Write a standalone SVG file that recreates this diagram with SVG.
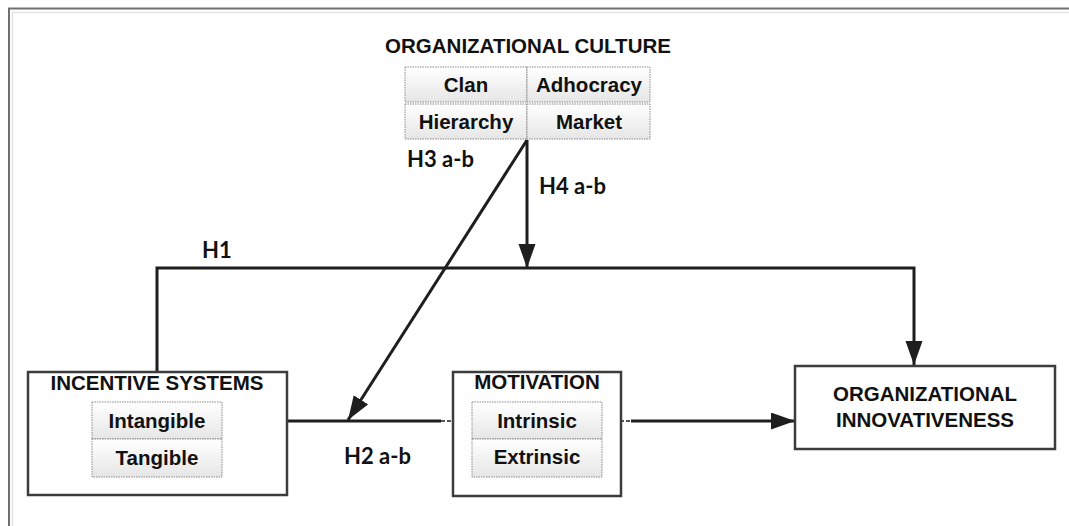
<svg xmlns="http://www.w3.org/2000/svg" width="1069" height="526" viewBox="0 0 1069 526">
  <defs>
    <linearGradient id="cellFill" x1="0" y1="0" x2="0" y2="1">
      <stop offset="0" stop-color="#ffffff"/>
      <stop offset="1" stop-color="#e6e6e6"/>
    </linearGradient>
    <marker id="arrow" markerUnits="userSpaceOnUse" markerWidth="26" markerHeight="18" refX="24" refY="8.5" orient="auto">
      <path d="M0,0 L24,8.5 L0,17 Z" fill="#1e1e1e"/>
    </marker>
    <style>
      .frame { fill: none; stroke: #707070; stroke-width: 2; }
      .frame-inner { fill: none; stroke: #e4e4e4; stroke-width: 1.5; }
      .box { fill: #ffffff; stroke: #3c3c3c; stroke-width: 2.5; }
      .cell { fill: url(#cellFill); stroke: #8a8a8a; stroke-width: 1; stroke-dasharray: 1.5 1; }
      .title { font-family: "Liberation Sans", Arial, sans-serif; font-weight: bold; font-size: 20.5px; fill: #111; text-anchor: middle; }
      .item { font-family: "Liberation Sans", Arial, sans-serif; font-weight: bold; font-size: 20.5px; fill: #111; text-anchor: middle; }
      .hyp { font-family: Lato, "Liberation Sans", sans-serif; font-weight: bold; font-size: 22px; fill: #111; }
      .link { fill: none; stroke: #1e1e1e; stroke-width: 3; }
      .link-dash { fill: none; stroke: #555; stroke-width: 2; stroke-dasharray: 4 2; }
    </style>
  </defs>

  <rect x="0" y="0" width="1069" height="526" fill="#ffffff"/>

  <!-- page frame -->
  <path class="frame" d="M9,526 V8.5 H1069"/>
  <path class="frame-inner" d="M12.5,526 V12.5 H1069"/>

  <!-- connectors -->
  <g id="connectors">
    <!-- H1: incentive systems to innovativeness -->
    <path class="link" d="M157,372 V268 H914 V365" marker-end="url(#arrow)"/>
    <!-- H4: culture moderating H1 -->
    <path class="link" d="M527,140 V268" marker-end="url(#arrow)"/>
    <!-- H3: culture moderating H2 -->
    <path class="link" d="M527,140 L348,420" marker-end="url(#arrow)"/>
    <!-- H2: incentive systems through motivation -->
    <path class="link" d="M287,421 H441"/>
    <path class="link-dash" d="M441,421 H472"/>
    <path class="link-dash" d="M602,421 H632"/>
    <path class="link" d="M631,421 H795" marker-end="url(#arrow)"/>
    <text class="hyp" x="202" y="258">H1</text>
    <text class="hyp" x="344" y="464">H2 a-b</text>
    <text class="hyp" x="407" y="167">H3 a-b</text>
    <text class="hyp" x="539" y="194">H4 a-b</text>
  </g>

  <!-- organizational culture -->
  <g id="culture">
    <text class="title" x="528" y="53">ORGANIZATIONAL CULTURE</text>
    <rect class="cell" x="405" y="67" width="122" height="35"/>
    <rect class="cell" x="527" y="67" width="123" height="35"/>
    <rect class="cell" x="405" y="104" width="122" height="35"/>
    <rect class="cell" x="527" y="104" width="123" height="35"/>
    <text class="item" x="466" y="92">Clan</text>
    <text class="item" x="589" y="92">Adhocracy</text>
    <text class="item" x="466" y="129">Hierarchy</text>
    <text class="item" x="589" y="129">Market</text>
  </g>

  <!-- incentive systems -->
  <g id="incentive-systems">
    <rect class="box" x="28" y="372" width="259" height="123"/>
    <text class="title" x="157" y="390">INCENTIVE SYSTEMS</text>
    <rect class="cell" x="92" y="402" width="130" height="37"/>
    <rect class="cell" x="92" y="439" width="130" height="38"/>
    <text class="item" x="157" y="428">Intangible</text>
    <text class="item" x="157" y="465">Tangible</text>
  </g>

  <!-- motivation -->
  <g id="motivation">
    <rect class="box" x="453" y="372" width="168" height="124"/>
    <text class="title" x="537" y="389">MOTIVATION</text>
    <rect class="cell" x="472" y="402" width="130" height="37"/>
    <rect class="cell" x="472" y="439" width="130" height="38"/>
    <text class="item" x="537" y="428">Intrinsic</text>
    <text class="item" x="537" y="464">Extrinsic</text>
  </g>

  <!-- organizational innovativeness -->
  <g id="innovativeness">
    <rect class="box" x="795" y="366" width="260" height="83"/>
    <text class="title" x="925" y="401">ORGANIZATIONAL</text>
    <text class="title" x="925" y="427">INNOVATIVENESS</text>
  </g>
</svg>
